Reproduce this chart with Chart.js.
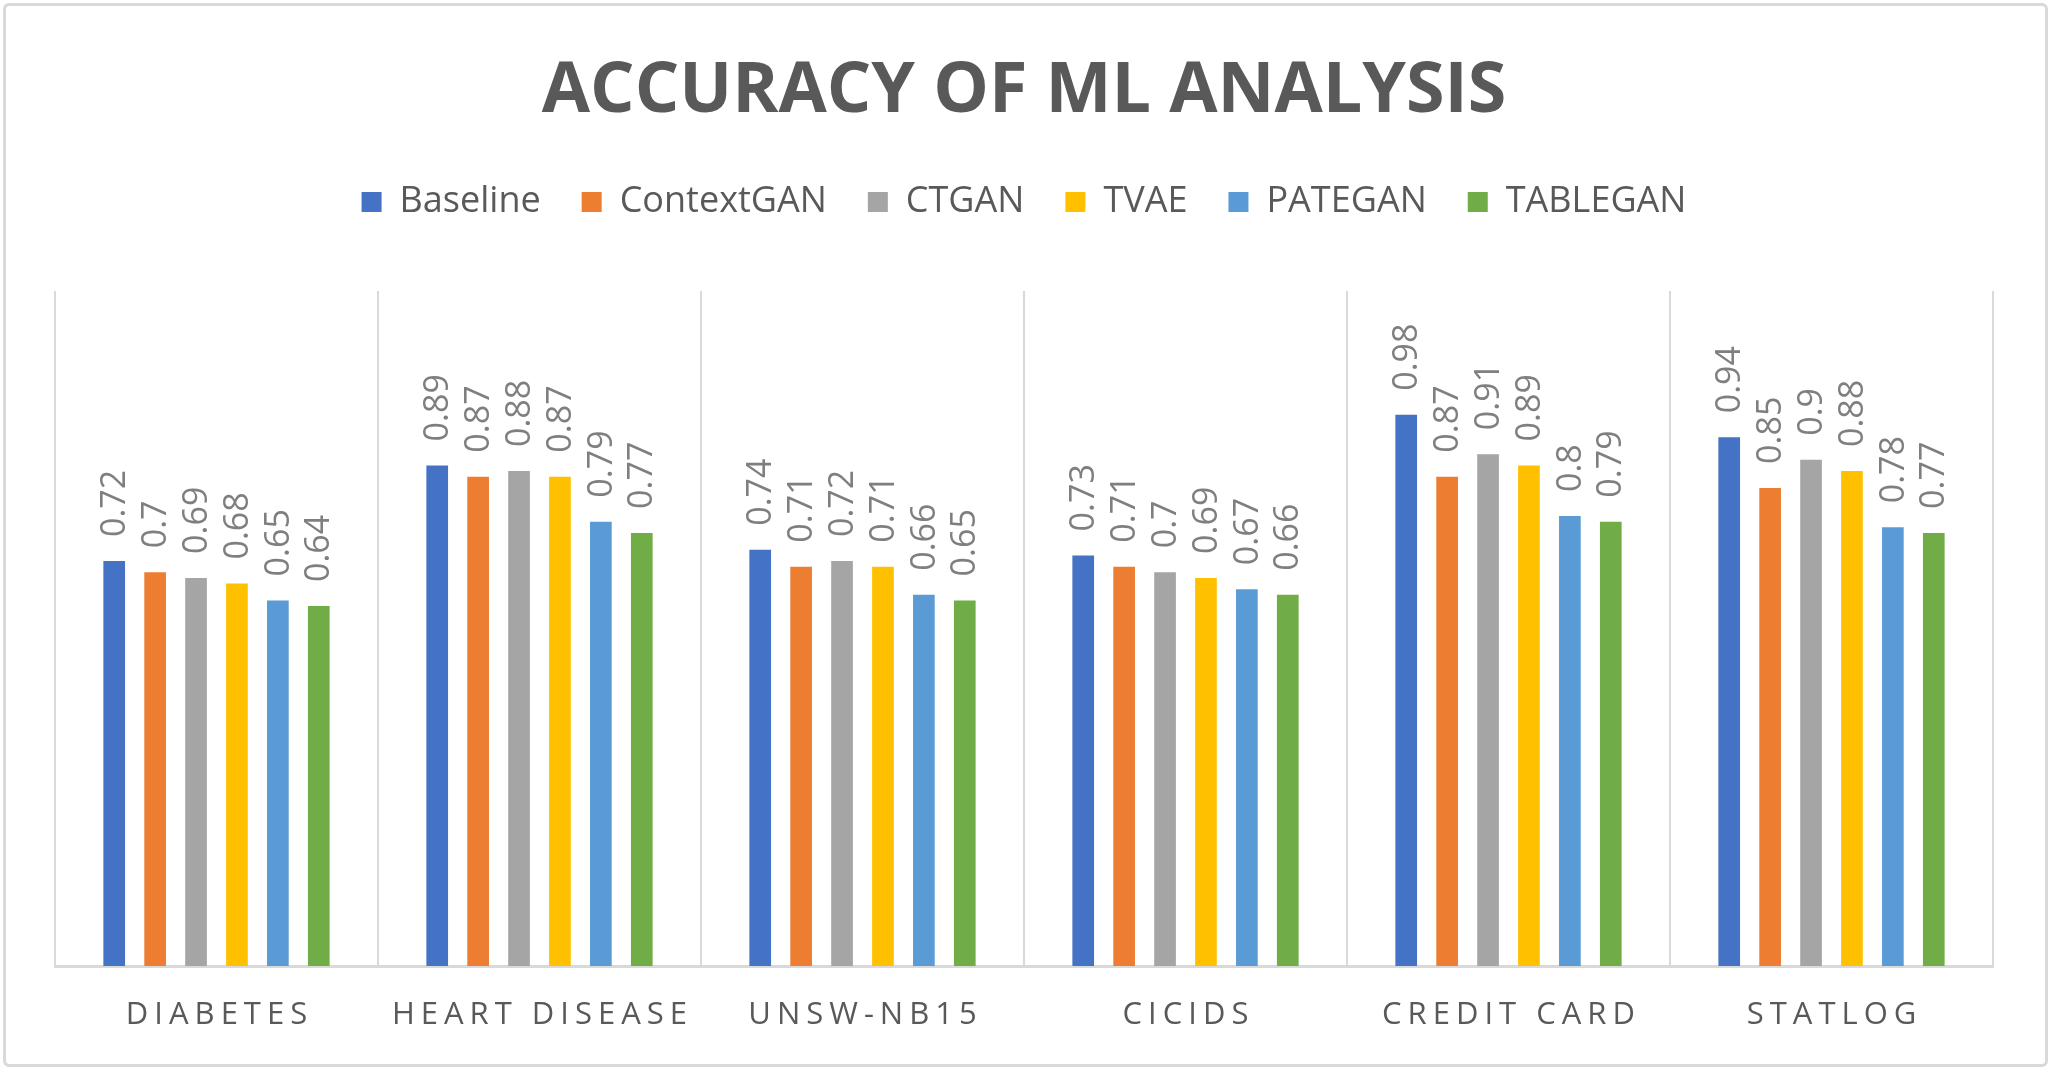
<!DOCTYPE html>
<html>
<head>
<meta charset="utf-8">
<script src="https://cdn.jsdelivr.net/npm/chart.js@4.4.1/dist/chart.umd.min.js"></script>
<style>
    html, body { margin: 0; padding: 0; background: #fff; }
    #wrap { position: relative; width: 2053px; height: 1072px; }
    #frame {
        position: absolute; left: 3px; top: 3px; right: 5px; bottom: 5px;
        border: 3px solid #d9d9d9; border-radius: 6px; pointer-events: none;
    }
    canvas { position: absolute; left: 0; top: 0; }
</style>
</head>
<body>
<div id="wrap">
    <canvas id="accuracyChart" width="2053" height="1072"></canvas>
    <div id="frame"></div>
</div>
<script>
// datasets / categories
const datasetNames = ['DIABETES', 'HEART DISEASE', 'UNSW-NB15', 'CICIDS', 'CREDIT CARD', 'STATLOG'];
const baseline   = [0.72, 0.89, 0.74, 0.73, 0.98, 0.94];
const contextGan = [0.70, 0.87, 0.71, 0.71, 0.87, 0.85];
const ctgan      = [0.69, 0.88, 0.72, 0.70, 0.91, 0.90];
const tvae       = [0.68, 0.87, 0.71, 0.69, 0.89, 0.88];
const pategan    = [0.65, 0.79, 0.66, 0.67, 0.80, 0.78];
const tablegan   = [0.64, 0.77, 0.65, 0.66, 0.79, 0.77];

const seriesNames = ['Baseline', 'ContextGAN', 'CTGAN', 'TVAE', 'PATEGAN', 'TABLEGAN'];
const seriesValues = [baseline, contextGan, ctgan, tvae, pategan, tablegan];
const seriesColors = ['#4472C4', '#ED7D31', '#A5A5A5', '#FFC000', '#5B9BD5', '#70AD47'];

const FONT = "'Open Sans', 'Liberation Sans', sans-serif";

// value labels, rotated, above each bar
const barLabels = {
    id: 'barLabels',
    afterDatasetsDraw(chart) {
        const ctx = chart.ctx;
        ctx.save();
        ctx.font = `34px ${FONT}`;
        ctx.fillStyle = '#7f7f7f';
        ctx.textAlign = 'left';
        ctx.textBaseline = 'middle';
        chart.data.datasets.forEach((ds, i) => {
            const meta = chart.getDatasetMeta(i);
            meta.data.forEach((bar, j) => {
                ctx.save();
                ctx.translate(bar.x, bar.y - 24);
                ctx.rotate(-Math.PI / 2);
                ctx.fillText(String(ds.data[j]), 0, 1);
                ctx.restore();
            });
        });
        ctx.restore();
    }
};

// spaced-out category names under the axis
const categoryLabels = {
    id: 'categoryLabels',
    afterDraw(chart) {
        const ctx = chart.ctx;
        const xScale = chart.scales.x;
        const spacing = 6;
        ctx.save();
        ctx.font = `31px ${FONT}`;
        ctx.fillStyle = '#595959';
        ctx.textAlign = 'center';
        ctx.textBaseline = 'middle';
        ctx.letterSpacing = spacing + 'px';
        datasetNames.forEach((name, i) => {
            ctx.fillText(name, xScale.getPixelForValue(i) + spacing / 2, 1015);
        });
        ctx.restore();
    }
};

new Chart(document.getElementById('accuracyChart'), {
    type: 'bar',
    data: {
        labels: datasetNames,
        datasets: seriesNames.map((name, i) => ({
            label: name,
            data: seriesValues[i],
            backgroundColor: seriesColors[i],
            borderWidth: 0,
            categoryPercentage: 0.76,
            barPercentage: 0.53
        }))
    },
    options: {
        responsive: false,
        devicePixelRatio: 1,
        animation: false,
        layout: {
            padding: { left: 55, right: 60, top: 0, bottom: 0 }
        },
        scales: {
            x: {
                position: 'bottom',
                grid: { color: '#d9d9d9', lineWidth: 2, drawTicks: false, offset: true },
                border: { color: '#d9d9d9', width: 3 },
                ticks: { display: false },
                afterFit: (scale) => { scale.height = 106; }
            },
            spacer: {
                type: 'category',
                position: 'top',
                labels: datasetNames,
                grid: { display: false },
                border: { display: false },
                ticks: { display: false },
                afterFit: (scale) => { scale.height = 61; }
            },
            y: {
                display: false,
                min: 0,
                max: 1.2
            }
        },
        plugins: {
            title: {
                display: true,
                text: 'ACCURACY OF ML ANALYSIS',
                color: '#595959',
                font: { family: FONT, size: 70, weight: 'bold' },
                padding: { top: 50, bottom: 9 }
            },
            legend: {
                position: 'top',
                labels: {
                    color: '#595959',
                    font: { family: FONT, size: 36 },
                    boxWidth: 20,
                    boxHeight: 20,
                    padding: 41
                }
            },
            tooltip: { enabled: false }
        }
    },
    plugins: [barLabels, categoryLabels]
});
</script>
</body>
</html>
